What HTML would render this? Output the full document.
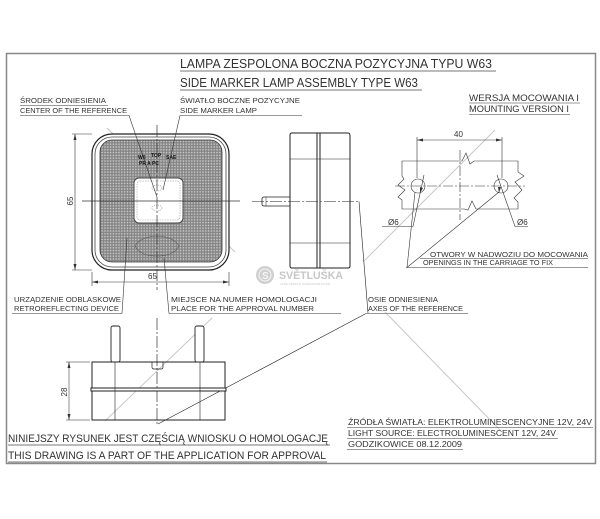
<!DOCTYPE html>
<html><head><meta charset="utf-8"><style>
html,body{margin:0;padding:0;background:#fff;}
svg{display:block;}
text{font-family:"Liberation Sans","DejaVu Sans",sans-serif;fill:#333;}
</style></head><body>
<svg width="600" height="519" viewBox="0 0 600 519" xmlns="http://www.w3.org/2000/svg">
<defs>
<pattern id="dots" width="2.8" height="2.8" patternUnits="userSpaceOnUse">
<rect width="2.8" height="2.8" fill="#858585"/>
<circle cx="1.4" cy="1.4" r="0.8" fill="#cfcfcf"/>
</pattern>
</defs>
<rect x="0" y="0" width="600" height="519" fill="#fff"/>
<rect x="6.5" y="53.5" width="589" height="410" fill="none" stroke="#888" stroke-width="1.5"/>

<g stroke="#c8c8c8" stroke-width="1" fill="none">
<line x1="107" y1="128" x2="235" y2="252"/>
<line x1="363" y1="262" x2="495" y2="130"/>
<line x1="105" y1="421" x2="212" y2="318"/>
<line x1="385" y1="312" x2="500" y2="430"/>
</g>

<text x="180" y="68" font-size="12.5" textLength="312" lengthAdjust="spacingAndGlyphs">LAMPA ZESPOLONA BOCZNA POZYCYJNA TYPU W63</text>
<line x1="180" y1="71" x2="496" y2="71" stroke="#777"/>
<text x="180" y="87" font-size="12.5" textLength="238" lengthAdjust="spacingAndGlyphs">SIDE MARKER LAMP ASSEMBLY TYPE W63</text>
<line x1="180" y1="90" x2="422" y2="90" stroke="#777"/>

<g font-size="7.5">
<text x="20" y="103" textLength="86" lengthAdjust="spacingAndGlyphs">ŚRODEK ODNIESIENIA</text>
<line x1="20" y1="105.5" x2="108" y2="105.5" stroke="#777" stroke-width="0.8"/>
<text x="20" y="113" textLength="107" lengthAdjust="spacingAndGlyphs">CENTER OF THE REFERENCE</text>
<line x1="20" y1="115.5" x2="129" y2="115.5" stroke="#777" stroke-width="0.8"/>
<text x="180" y="103" textLength="120" lengthAdjust="spacingAndGlyphs">ŚWIATŁO BOCZNE POZYCYJNE</text>
<text x="180" y="113" textLength="77" lengthAdjust="spacingAndGlyphs">SIDE MARKER LAMP</text>
<line x1="180" y1="115.5" x2="302" y2="115.5" stroke="#777" stroke-width="0.8"/>

<text x="469" y="101" font-size="9" textLength="110" lengthAdjust="spacingAndGlyphs">WERSJA MOCOWANIA I</text>
<line x1="469" y1="103" x2="580" y2="103" stroke="#777" stroke-width="0.8"/>
<text x="469" y="112" font-size="9" textLength="100" lengthAdjust="spacingAndGlyphs">MOUNTING VERSION I</text>
<line x1="469" y1="114.5" x2="570" y2="114.5" stroke="#777" stroke-width="0.8"/>

<text x="430" y="257" textLength="158" lengthAdjust="spacingAndGlyphs">OTWORY W NADWOZIU DO MOCOWANIA</text>
<line x1="420" y1="258.5" x2="588" y2="258.5" stroke="#777" stroke-width="0.8"/>
<text x="423" y="265" textLength="130" lengthAdjust="spacingAndGlyphs">OPENINGS IN THE CARRIAGE TO FIX</text>
<line x1="406" y1="267.5" x2="588" y2="267.5" stroke="#777" stroke-width="0.8"/>

<text x="368" y="302" textLength="70" lengthAdjust="spacingAndGlyphs">OSIE ODNIESIENIA</text>
<text x="368" y="311" textLength="95" lengthAdjust="spacingAndGlyphs">AXES OF THE REFERENCE</text>
<line x1="366" y1="313.5" x2="468" y2="313.5" stroke="#777" stroke-width="0.8"/>

<text x="14" y="302" textLength="107" lengthAdjust="spacingAndGlyphs">URZĄDZENIE ODBLASKOWE</text>
<text x="14" y="311" textLength="105" lengthAdjust="spacingAndGlyphs">RETROREFLECTING DEVICE</text>
<line x1="12" y1="313.5" x2="122" y2="313.5" stroke="#777" stroke-width="0.8"/>
<text x="171" y="302" textLength="146" lengthAdjust="spacingAndGlyphs">MIEJSCE NA NUMER HOMOLOGACJI</text>
<text x="171" y="311" textLength="143" lengthAdjust="spacingAndGlyphs">PLACE FOR THE APPROVAL NUMBER</text>
<line x1="169" y1="313.5" x2="341" y2="313.5" stroke="#777" stroke-width="0.8"/>
</g>

<text x="8" y="442" font-size="11" textLength="320" lengthAdjust="spacingAndGlyphs">NINIEJSZY RYSUNEK JEST CZĘŚCIĄ WNIOSKU O  HOMOLOGACJĘ</text>
<line x1="8" y1="445" x2="330" y2="445" stroke="#777"/>
<text x="8" y="459" font-size="11" textLength="318" lengthAdjust="spacingAndGlyphs">THIS DRAWING IS A PART OF THE APPLICATION FOR  APPROVAL</text>
<line x1="8" y1="462" x2="327" y2="462" stroke="#777"/>
<g font-size="8">
<text x="348" y="425" textLength="244" lengthAdjust="spacingAndGlyphs">ŹRÓDŁA ŚWIATŁA: ELEKTROLUMINESCENCYJNE  12V, 24V</text>
<line x1="347" y1="427.5" x2="593" y2="427.5" stroke="#777" stroke-width="0.8"/>
<text x="348" y="436" textLength="208" lengthAdjust="spacingAndGlyphs">LIGHT SOURCE: ELECTROLUMINESCENT  12V, 24V</text>
<line x1="347" y1="438.5" x2="558" y2="438.5" stroke="#777" stroke-width="0.8"/>
<text x="348" y="447" textLength="114" lengthAdjust="spacingAndGlyphs">GODZIKOWICE 08.12.2009</text>
<line x1="347" y1="449.5" x2="463" y2="449.5" stroke="#777" stroke-width="0.8"/>
</g>

<rect x="92" y="134" width="137" height="136" rx="20" fill="#fff" stroke="#222" stroke-width="1.2"/>
<rect x="95" y="137" width="131" height="130" rx="17" fill="none" stroke="#444" stroke-width="0.8"/>
<rect x="100" y="140" width="122" height="122" rx="12" fill="url(#dots)" stroke="#333" stroke-width="0.8"/>
<rect x="134" y="178" width="49" height="45" rx="5" fill="#fff" stroke="#444" stroke-width="1"/>
<rect x="137" y="181" width="43" height="39" rx="3" fill="none" stroke="#999" stroke-width="0.6" stroke-dasharray="1.5 1"/>
<ellipse cx="157" cy="188" rx="5" ry="3" fill="none" stroke="#888" stroke-width="0.6" stroke-dasharray="1 1"/>
<ellipse cx="157" cy="208" rx="5" ry="3" fill="none" stroke="#888" stroke-width="0.6" stroke-dasharray="1 1"/>
<path d="M135 246 Q140 237 157 236 Q174 237 179 246 Q174 256 157 256 Q140 256 135 246Z" fill="none" stroke="#555" stroke-width="0.6"/>
<g font-size="5" font-weight="bold">
<text x="138" y="159" style="fill:#111">W6 </text><text x="151" y="157" style="fill:#111">TOP</text><text x="166" y="159" style="fill:#111">SAE</text>
<text x="139" y="165" style="fill:#111">PR  A  PC</text>
</g>
<g stroke="#333" stroke-width="0.7">
<line x1="157" y1="125" x2="157" y2="290" stroke-dasharray="12 2 2 2"/>
<line x1="82" y1="201" x2="240" y2="201"/>
<line x1="157" y1="318" x2="157" y2="425" stroke-dasharray="12 2 2 2"/>
</g>
<g stroke="#333" stroke-width="0.6" fill="none">
<line x1="72" y1="134" x2="92" y2="134"/>
<line x1="72" y1="270" x2="92" y2="270"/>
<line x1="75" y1="134" x2="75" y2="270"/>
<line x1="92" y1="272" x2="92" y2="286"/>
<line x1="229" y1="272" x2="229" y2="286"/>
<line x1="92" y1="282" x2="229" y2="282"/>
</g>
<g fill="#333">
<path d="M75 134 l-1.5 6 h3z"/><path d="M75 270 l-1.5 -6 h3z"/>
<path d="M92 282 l6 -1.5 v3z"/><path d="M229 282 l-6 -1.5 v3z"/>
</g>
<text x="0" y="0" font-size="8" transform="translate(73 201) rotate(-90)" text-anchor="middle">65</text>
<text x="148" y="279" font-size="8">65</text>

<g stroke="#333" stroke-width="0.6" fill="none">
<path d="M129 115.5 L157 197"/>
<path d="M180 115.5 L163 190"/>
<path d="M122 313.5 L127 238"/>
<path d="M169 313.5 L164 258"/>
</g>

<g stroke="#222" fill="none">
<path d="M292 133 L317 133 L317 268 L292 268 Q290 268 290 266 L290 135 Q290 133 292 133Z" stroke-width="1"/>
<rect x="317" y="133" width="3" height="135" stroke-width="1" fill="#fff"/>
<path d="M320 133 L348 133 Q350 133 350 136 L350 266 Q350 268 348 268 L320 268" stroke-width="1"/>
<line x1="290" y1="159" x2="350" y2="159" stroke-width="0.6"/>
<line x1="290" y1="243" x2="350" y2="243" stroke-width="0.6"/>
<path d="M290 197 L264 197 Q262 197 262 199 L262 204 Q262 206 264 206 L290 206" stroke-width="0.8"/>
<line x1="266" y1="197" x2="266" y2="206" stroke-width="0.5"/>
<line x1="252" y1="201.5" x2="359" y2="201.5" stroke-width="0.6" stroke-dasharray="12 2 2 2"/>
<path d="M359 201.5 L368 313" stroke-width="0.6"/>
<path d="M366 313.5 L158 424" stroke-width="0.6"/>
</g>

<g opacity="0.55">
<circle cx="265" cy="275" r="9" fill="#aaa"/>
<circle cx="265" cy="275" r="6" fill="none" stroke="#eee" stroke-width="1"/>
<text x="262" y="279" font-size="10" font-weight="bold" style="fill:#eee">S</text>
<text x="279" y="279" font-size="11" font-weight="bold" style="fill:#999" textLength="64" lengthAdjust="spacingAndGlyphs">SVĚTLUŠKA</text>
<text x="280" y="285" font-size="3" style="fill:#999">VAŠE CESTA K NÁHRADNÍM DÍLŮM</text>
</g>

<g stroke="#333" stroke-width="0.6" fill="none">
<line x1="417" y1="137" x2="417" y2="178"/>
<line x1="502" y1="137" x2="502" y2="178"/>
<line x1="417" y1="140" x2="502" y2="140"/>
<path d="M402 161 L462 161 L466 153 L470 164 L474 161 L518 161 L518 172 L524 176 L515 182 L522 190 L514 198 L518 202 L518 209 L476 209 L472 201 L468 210 L464 209 L402 209 L402 200 L398 197 L405 190 L398 185 L404 179 L402 176Z"/>
<line x1="460" y1="150" x2="460" y2="220" stroke-dasharray="10 2 2 2"/>
<line x1="395" y1="186" x2="525" y2="186" stroke-dasharray="10 2 2 2"/>
<circle cx="418" cy="186" r="7"/>
<circle cx="501" cy="186" r="7"/>
<path d="M382 226.5 L413 226.5 L424 175"/>
<path d="M528 226.5 L515 226.5 L497 175"/>
<path d="M407 267.5 L415 192"/>
<path d="M407 267.5 L499 192"/>
</g>
<g fill="#333">
<path d="M417 140 l6 -1.5 v3z"/><path d="M502 140 l-6 -1.5 v3z"/>
<path d="M420 193 l0 -6 l3 1z"/><path d="M499 193 l-1 -6 l3 0z"/>
</g>
<text x="454" y="137" font-size="8">40</text>
<text x="388" y="225" font-size="8">Ø6</text>
<text x="517" y="225" font-size="8">Ø6</text>

<g stroke="#222" fill="none">
<rect x="111" y="326" width="9" height="36" rx="2" stroke-width="0.9" fill="#fff"/>
<rect x="195" y="326" width="9" height="36" rx="2" stroke-width="0.9" fill="#fff"/>
<path d="M92 362 L225 362 L225 420 L92 420Z" stroke-width="1"/>
<rect x="91" y="388" width="135" height="3" stroke-width="1" fill="#fff"/>
<line x1="115" y1="362" x2="115" y2="420" stroke-width="0.6"/>
<line x1="200" y1="362" x2="200" y2="420" stroke-width="0.6"/>
<path d="M152 362 L152 367 Q152 369 154 369 L161 369 Q163 369 163 367 L163 362" stroke-width="0.7"/>
<line x1="66" y1="362" x2="90" y2="362" stroke-width="0.5"/>
<line x1="66" y1="420" x2="90" y2="420" stroke-width="0.5"/>
<line x1="69" y1="362" x2="69" y2="420" stroke-width="0.5"/>
</g>
<g fill="#333"><path d="M69 362 l-1.5 6 h3z"/><path d="M69 420 l-1.5 -6 h3z"/></g>
<text x="0" y="0" font-size="8" transform="translate(67 392) rotate(-90)" text-anchor="middle">28</text>
</svg>
</body></html>
